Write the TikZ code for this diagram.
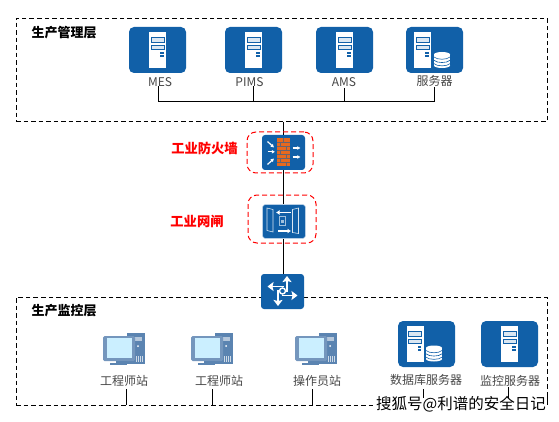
\documentclass[tikz,border=0pt]{standalone}
\usepackage{fontspec}
\setmainfont{Noto Sans CJK SC}
\usetikzlibrary{calc,arrows.meta}
\definecolor{iconblue}{HTML}{1160A8}
\definecolor{pcblue}{HTML}{5B84B1}
\definecolor{screen}{HTML}{CBEFFF}
\definecolor{brick}{HTML}{E8691E}
\tikzset{
  x=1pt,y=-1pt,
  iconbox/.style={fill=iconblue,rounded corners=5pt,inner sep=0pt,draw=none,minimum width=57pt,minimum height=46pt},
  smallbox/.style={fill=iconblue,rounded corners=3pt,inner sep=0pt,draw=none,minimum width=43pt,minimum height=35pt},
  pcnode/.style={minimum width=42pt,minimum height=30pt,inner sep=0pt},
  zone/.style={draw=black,line width=.8pt,dash pattern=on 4.5pt off 3pt,inner sep=0pt},
  redzone/.style={draw=red,line width=1pt,dash pattern=on 5pt off 3pt,rounded corners=9pt,inner sep=0pt},
  link/.style={draw=black,line width=.8pt},
  lbl/.style={font=\fontsize{12}{14}\selectfont,text=black!72,inner sep=0pt},
  zonelbl/.style={font=\fontsize{13}{15}\selectfont\bfseries,inner sep=0pt,text=black},
  redlbl/.style={font=\fontsize{13.3}{15}\selectfont\bfseries,inner sep=0pt,text=red},
  wm/.style={font=\fontsize{15.5}{17}\selectfont,inner sep=0pt,text height=12pt,text depth=3pt,fill=white,text=black},
}
\newcommand{\tower}[2]{%
  \begin{scope}[shift={(#1,#2)}]
    \fill[white] (-8.5,-18) rectangle (8.5,18);
    \draw[iconblue,line width=.9pt,fill=iconblue!15] (-6.5,-12.3) rectangle (6.5,-7.7);
    \draw[iconblue,line width=.9pt,fill=iconblue!15] (-6.5,-5) rectangle (6.5,-.7);
    \fill[iconblue] (2.5,2.3) rectangle (6,4.3);
    \fill[iconblue] (2.5,5) rectangle (6,6.9);
  \end{scope}}
\newcommand{\disks}[2]{%
  \begin{scope}[shift={(#1,#2)}]
    \fill[white] (-8,-5.5) rectangle (8,5.5);
    \fill[white] (0,5.5) ellipse[x radius=8,y radius=2.5];
    \fill[white] (0,-5.5) ellipse[x radius=8,y radius=2.5];
    \foreach \yy in {-3,.3,3.6}{
      \draw[iconblue,line width=.6pt] (-8,\yy) .. controls (-5,\yy+3) and (5,\yy+3) .. (8,\yy);
    }
  \end{scope}}
\newcommand{\pcicon}[2]{%
  \begin{scope}[shift={(#1,#2)}]
    \fill[pcblue] (3,-14) rectangle (21,17);
    \fill[white,opacity=.55] (8,-10) rectangle (18,-6);
    \fill[white] (14,-1) circle (1);
    \foreach \xx in {12,14,16,18}{\fill[white,opacity=.7] (\xx,9) rectangle (\xx+1,15);}
    \fill[pcblue!85!white,rounded corners=1.5pt] (-21,-11) rectangle (11,14);
    \fill[screen] (-17.5,-9) rectangle (8,10.5);
    \fill[pcblue] (-8,14) rectangle (3,16);
    \fill[pcblue] (-14,16) rectangle (3,18);
  \end{scope}}
\newcommand{\arr}[4]{\draw[white,line width=1.2pt,-{Latex[length=3.2pt,width=4pt]}] (#1,#2) -- (#3,#4);}
\begin{document}
\begin{tikzpicture}
\useasboundingbox (0,0) rectangle (559,422);
\fill[white] (0,0) rectangle (559,422);
% zones
\node[zone,minimum width=531pt,minimum height=103.5pt] (top) at (281.5,70) {};
\node[zone,minimum width=531pt,minimum height=107.5pt] (bot) at (281.5,351.3) {};
\node[zonelbl] (ttop) at (64,33) {生产管理层};
\node[zonelbl] (tbot) at (64,311) {生产监控层};
% top icons
\node[iconbox] (mes) at (157.5,50) {};  \tower{157.5}{50}
\node[iconbox] (pims) at (253.5,50) {}; \tower{253.5}{50}
\node[iconbox] (ams) at (344.5,50) {};  \tower{344.5}{50}
\node[iconbox] (srv) at (434.5,50) {};  \tower{422.7}{50}\disks{442}{60}
% bottom servers
\node[iconbox] (db) at (426.5,344) {};  \tower{415}{344}\disks{434}{353.5}
\node[iconbox] (mon) at (509.5,344) {}; \tower{509.5}{344}
% labels
\node[lbl] (lmes) at (160,82) {MES};
\node[lbl] (lpims) at (249.5,82) {PIMS};
\node[lbl] (lams) at (344,82.5) {AMS};
\node[lbl] (lsrv) at (434.5,80.5) {服务器};
\node[lbl] (lpc1) at (124,381) {工程师站};
\node[lbl] (lpc2) at (219,381) {工程师站};
\node[lbl] (lop) at (317,381) {操作员站};
\node[lbl] (ldb) at (426,380) {数据库服务器};
\node[lbl] (lmon) at (510,380.5) {监控服务器};
% bus
\coordinate (busl) at (158.3,101);
\coordinate (busr) at (434,101);
\draw[link] (158.3,86) -- (busl) -- (busr) -- (434,87);
\draw[link] (253.3,86) -- (253.3,101);
\draw[link] (344.5,88) -- (344.5,101);
% trunk
\node[smallbox] (fw) at (283.5,152.5) {};
\node[smallbox,draw=white!70!iconblue,line width=.6pt,minimum width=43pt,minimum height=34pt] (gw) at (284,221.5) {};
\node[smallbox] (sw) at (282.5,291.5) {};
\draw[link] (fw |- top.south) -- (fw.north);
\draw[link] (fw.south) -- (fw |- gw.north);
\draw[link] (fw |- gw.south) -- (fw |- sw.north);
% red zones
\node[redzone,minimum width=66pt,minimum height=41pt] (rfw) at (280,152.5) {};
\node[redzone,minimum width=68pt,minimum height=48pt] (rgw) at (282,219) {};
\node[redlbl] (tfw) at (204.5,148) {工业防火墙};
\node[redlbl] (tgw) at (197,221) {工业网闸};
% firewall icon
\begin{scope}[shift={(283.5,152.5)}]
  \fill[brick] (-6.5,-14.5) rectangle (6.5,14);
  \foreach \yy in {-10.5,-6.5,-2.5,1.5,5.5,9.5}{\draw[iconblue!60!brick,line width=.45pt] (-6.5,\yy) -- (6.5,\yy);}
  \foreach \yy/\xx in {-14.5/0,-10.5/-3,-6.5/3,-2.5/-3,1.5/3,5.5/-3,9.5/3}{\draw[iconblue!60!brick,line width=.4pt] (\xx,\yy) -- (\xx,\yy+4);}
  \arr{-16}{-11}{-9.5}{-5}
  \arr{-16}{-.7}{-8.5}{-.7}
  \arr{-16}{12}{-9.5}{6}
  \arr{9}{-4.5}{17}{-4.5}
  \arr{9}{4.5}{17}{4.5}
\end{scope}
% gateway icon
\begin{scope}[shift={(284,221.5)}]
  \draw[white!85!iconblue,line width=.6pt] (-17,-13.5) -- (-11,-12) -- (-11,10.5) -- (-17,9) -- cycle;
  \draw[white!85!iconblue,line width=.6pt] (14.5,-13.5) -- (8.5,-12) -- (8.5,11) -- (14.5,12) -- cycle;
  \draw[white,line width=1.3pt,-{Latex[length=3.5pt,width=5pt]}] (6.7,-9) -- (-8,-9);
  \draw[white,line width=1.3pt,-{Latex[length=3.5pt,width=5pt]}] (-6,9.5) -- (7,9.5);
  \draw[white!60!iconblue,line width=.6pt] (-5,-5) rectangle (1,4);
  \fill[white!60!iconblue] (-3.5,-1.5) rectangle (-.5,1.5);
\end{scope}
% switch icon
\begin{scope}[shift={(282.5,291)}]
  \foreach \a in {0,90,180,270}{
    \begin{scope}[rotate=\a]
      \draw[white,line width=1.6pt,-{Stealth[length=6pt,width=9pt,inset=1pt]}] (-1,4.5) -- (15,4.5);
    \end{scope}}
  \draw[white,line width=1.4pt,fill=iconblue] (0,0) circle (3);
\end{scope}
% PCs
\node[pcnode] (pc1) at (124,347) {}; \pcicon{124}{347}
\node[pcnode] (pc2) at (212,347) {}; \pcicon{212}{347}
\node[pcnode] (pc3) at (316,347) {}; \pcicon{316}{347}
% drops
\coordinate (d1) at (126,405);
\coordinate (d2) at (212.3,405);
\coordinate (d3) at (312.3,405);
\coordinate (d4) at (423.3,405);
\coordinate (d5) at (508.3,405);
\draw[link] (126,389) -- (d1);
\draw[link] (212.3,389) -- (d2);
\draw[link] (312.3,389) -- (d3);
\draw[link] (423.3,389) -- (d4);
\draw[link] (508.3,387) -- (d5);
% watermark
\node[wm,anchor=west] (mark) at (376,405) {搜狐号@利谱的安全日记};
\draw[zone] (547,396) -- (547,405);
\end{tikzpicture}
\end{document}
